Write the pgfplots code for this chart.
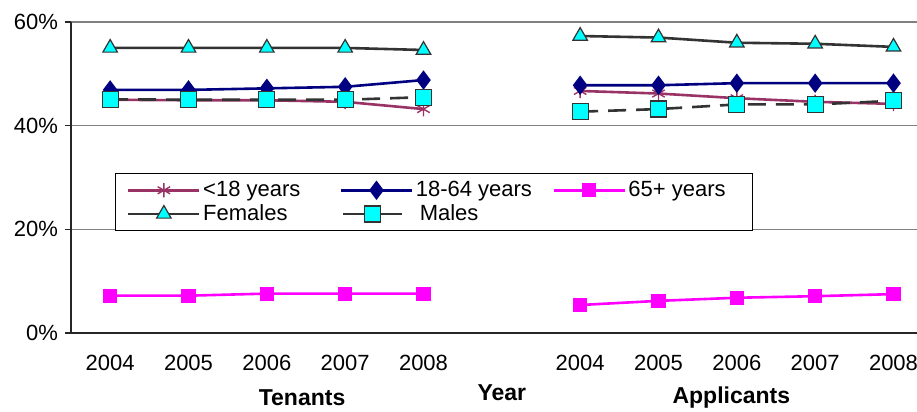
\documentclass[border=0pt]{standalone}
\usepackage{pgfplots}
\pgfplotsset{compat=1.18}
\usepackage{fontspec}
\setmainfont{Liberation Sans}

\definecolor{kids}{HTML}{993366}
\definecolor{adults}{HTML}{000080}
\definecolor{seniors}{HTML}{FF00FF}
\definecolor{dgray}{HTML}{333333}
\definecolor{aqua}{HTML}{00FFFF}

\begin{document}
\begin{tikzpicture}
\useasboundingbox (-35.5pt,-39.5pt) rectangle (423pt,166.5pt);
\begin{axis}[
    scale only axis,
    width=423pt,
    height=155.5pt,
    xmin=-0.5, xmax=10.3,
    ymin=0, ymax=60,
    axis x line=bottom,
    axis y line=left,
    axis line style={-, black!85, line width=0.6pt},
    ytick={0,20,40,60},
    yticklabel={\pgfmathprintnumber{\tick}\%},
    ymajorgrids,
    grid style={gray, line width=0.6pt},
    tick align=outside,
    major tick length=3pt,
    tick style={black!85, line width=0.6pt},
    xtick={0,1,2,3,4,6,7,8,9,10},
    xticklabels={2004,2005,2006,2007,2008,2004,2005,2006,2007,2008},
    xtick style={draw=none},
    xticklabel style={yshift=-4.5pt},
    extra x ticks={-0.5,0.5,1.5,2.5,3.5,4.5,5.5,6.5,7.5,8.5,9.5},
    extra x tick labels={},
    extra x tick style={tick style={black!85, line width=0.6pt}, grid=none},
    /pgf/number format/assume math mode=true,
    tick label style={font=\fontsize{11}{13}\selectfont},
    unbounded coords=jump,
    clip=false,
    legend columns=3,
    legend style={
        at={(axis description cs:0.052,0.5145)}, anchor=north west,
        draw=black, line width=0.6pt, fill=white,
        font=\fontsize{11}{13}\selectfont,
        column sep=0pt, row sep=0pt, inner xsep=5.75pt, inner ysep=2.5pt,
        nodes={inner sep=1.25pt},
    },
    legend image code/.code={\draw[mark repeat=2,mark phase=2] plot coordinates {(0pt,0pt)(17.75pt,0pt)(35.5pt,0pt)};},
]

% <18 years
\addplot[kids, line width=1.3pt, mark=asterisk, mark size=3.6pt, mark options={line width=0.7pt}]
coordinates {(0,45.0) (1,44.9) (2,44.9) (3,44.6) (4,43.2) (5,nan)
             (6,46.7) (7,46.2) (8,45.3) (9,44.6) (10,44.2)};
\addlegendentry{\makebox[67pt][l]{<18 years}}

% 18-64 years
\addplot[adults, line width=1.3pt, mark=diamond*, mark size=3.8pt, mark options={fill=adults}]
coordinates {(0,46.9) (1,46.9) (2,47.2) (3,47.5) (4,48.8) (5,nan)
             (6,47.8) (7,47.8) (8,48.2) (9,48.2) (10,48.2)};
\addlegendentry{\makebox[67pt][l]{18-64 years}}

% 65+ years
\addplot[seniors, line width=1.3pt, mark=square*, mark size=2.9pt, mark options={fill=seniors}]
coordinates {(0,7.2) (1,7.2) (2,7.6) (3,7.6) (4,7.6) (5,nan)
             (6,5.4) (7,6.2) (8,6.8) (9,7.1) (10,7.5)};
\addlegendentry{\makebox[55pt][l]{65+ years}}

% Females
\addplot[dgray, line width=1.3pt, mark=triangle*, mark size=4.2pt, mark options={fill=aqua, draw=dgray, line width=0.6pt}]
coordinates {(0,55.0) (1,55.0) (2,55.0) (3,55.0) (4,54.6) (5,nan)
             (6,57.3) (7,57.0) (8,56.0) (9,55.8) (10,55.2)};
\addlegendentry{\makebox[67pt][l]{Females}}

% Males
\addplot[dgray, line width=1.3pt, dash pattern=on 9pt off 5pt, mark=square*, mark size=4pt, mark options={solid, fill=aqua, draw=dgray, line width=0.6pt},
    legend image code/.code={\draw[mark repeat=2,mark phase=2, solid] plot coordinates {(1pt,0pt)(15.75pt,0pt)(30.5pt,0pt)};}]
coordinates {(0,45.1) (1,45.0) (2,45.0) (3,45.0) (4,45.5) (5,nan)
             (6,42.7) (7,43.2) (8,44.1) (9,44.1) (10,44.8)};
\addlegendentry{\makebox[67pt][l]{\hspace{2pt}Males}}

\node[font=\fontsize{11.5}{13}\selectfont\bfseries] at (axis cs:2.45,0) [yshift=-32.5pt] {Tenants};
\node[font=\fontsize{11.5}{13}\selectfont\bfseries] at (axis cs:7.93,0) [yshift=-32.5pt] {Applicants};
\node[font=\fontsize{11.5}{13}\selectfont\bfseries] at (axis cs:5,0) [yshift=-30pt] {Year};
\end{axis}
\end{tikzpicture}
\end{document}
